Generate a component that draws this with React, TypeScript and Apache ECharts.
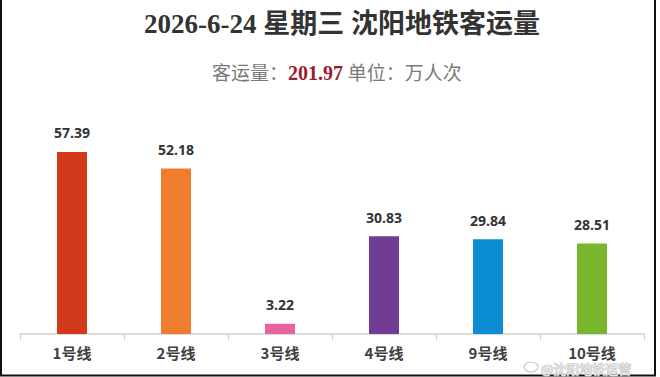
import React, { useEffect, useRef } from "react";
import * as echarts from "echarts";

const categories = ["1号线", "2号线", "3号线", "4号线", "9号线", "10号线"];
const values = [57.39, 52.18, 3.22, 30.83, 29.84, 28.51];
const barColors = ["#d2391b", "#ee7d2f", "#e8639f", "#713c94", "#0e8ed2", "#7ab72f"];
const titleText = "2026-6-24 星期三 沈阳地铁客运量";
const totalValue = "201.97";
const unitText = "单位：万人次";
const watermark = "@沈阳地铁运营";

export default function App() {
  const ref = useRef<HTMLDivElement>(null);
  useEffect(() => {
    if (!ref.current) return;
    const chart = echarts.init(ref.current, null, { renderer: "svg" });
    chart.setOption({
      animation: false,
      backgroundColor: "#ffffff",
      title: [
        {
          text: titleText,
          left: 139,
          top: 5,
          textStyle: {
            fontFamily: "'Liberation Serif', 'Noto Sans CJK SC', serif",
            fontWeight: "bold",
            fontSize: 27,
            color: "#333333",
          },
        },
        {
          text: "{a|客运量：}{b|" + totalValue + "}{a| " + unitText + "}",
          left: 207,
          top: 58,
          textStyle: {
            fontWeight: "normal",
            rich: {
              a: {
                fontFamily: "'Liberation Serif', 'Noto Sans CJK SC', serif",
                fontSize: 19,
                fontWeight: "normal",
                color: "#7a7a7a",
              },
              b: {
                fontFamily: "'Liberation Serif', 'Noto Sans CJK SC', serif",
                fontSize: 20,
                fontWeight: "bold",
                color: "#9a1b31",
              },
            },
          },
        },
      ],
      grid: { left: 20, right: 16, top: 112, bottom: 43, containLabel: false },
      xAxis: {
        type: "category",
        data: categories,
        axisLine: { lineStyle: { color: "#cfcfcf", width: 1.5 } },
        axisTick: { show: true, length: 6, lineStyle: { color: "#cfcfcf" } },
        axisLabel: {
          margin: 10,
          lineHeight: 16,
          fontFamily: "'Noto Sans CJK SC', sans-serif",
          fontWeight: "bold",
          fontSize: 15,
          color: "#404040",
        },
      },
      yAxis: {
        type: "value",
        min: 0,
        max: 70,
        show: false,
        splitLine: { show: false },
      },
      series: [
        {
          type: "bar",
          data: values.map((v, i) => ({ value: v, itemStyle: { color: barColors[i] } })),
          barWidth: 30,
          label: {
            show: true,
            position: "top",
            distance: 12,
            fontFamily: "'Open Sans', 'Liberation Sans', sans-serif",
            fontWeight: "bold",
            fontSize: 14,
            color: "#333333",
          },
        },
      ],
      graphic: [
        {
          type: "line",
          shape: { x1: 1, y1: 0, x2: 1, y2: 376 },
          style: { stroke: "#111", lineWidth: 2 },
        },
        {
          type: "line",
          shape: { x1: 0, y1: 375.5, x2: 656, y2: 375.5 },
          style: { stroke: "#111", lineWidth: 2 },
        },
        {
          type: "line",
          shape: { x1: 655, y1: 0, x2: 655, y2: 376 },
          style: { stroke: "#111", lineWidth: 2 },
        },
        {
          type: "ellipse",
          shape: { cx: 531, cy: 367, rx: 7, ry: 5 },
          style: { fill: "rgba(255,255,255,0.4)", stroke: "#c8c8c8", lineWidth: 1.2 },
        },
        {
          type: "text",
          x: 541,
          y: 368,
          style: {
            text: watermark,
            fontFamily: "'Noto Sans CJK SC', sans-serif",
            fontSize: 13,
            lineHeight: 13,
            fill: "rgba(255,255,255,0.6)",
            stroke: "#c4c4c4",
            lineWidth: 1,
            verticalAlign: "middle",
            align: "left",
          },
        },
      ],
    });
    return () => chart.dispose();
  }, []);
  return <div ref={ref} style={{ width: 660, height: 377, position: "absolute", left: 0, top: 0 }} />;
}
